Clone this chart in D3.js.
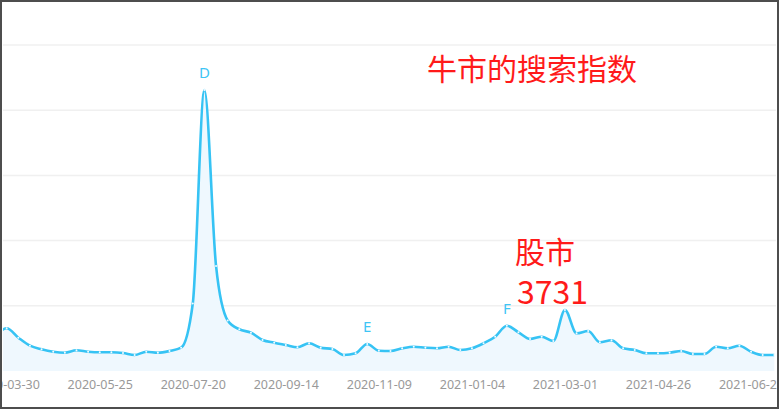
<!DOCTYPE html>
<html>
<head>
<meta charset="utf-8">
<script src="https://cdn.jsdelivr.net/npm/d3@7"></script>
<style>
  html, body { margin: 0; padding: 0; background: #fff; }
  svg { display: block; }
</style>
</head>
<body>
<svg width="779" height="409"></svg>
<script>
// weekly search index, from the week before 2020-03-30 to 2021-07-05
const startWeek = "2020-03-23";
const values = [
  5370, 6550, 5110, 3880, 3330, 2960, 2810, 3180, 2960, 2870,
  2870, 2760, 2450, 2960, 2810, 3070, 3570, 10350, 43100, 16110,
  7750, 6400, 5880, 4760, 4340, 3990, 3640, 4250, 3570, 3380,
  2450, 2720, 4140, 3110, 3070, 3480, 3730, 3570, 3480, 3730,
  3220, 3480, 4250, 5260, 6950, 5940, 4910, 5260, 4600, 9360,
  5780, 6140, 4400, 4710, 3480, 3220, 2720, 2720, 2810, 3070,
  2610, 2610, 3730, 3480, 3880, 2960, 2450, 2450
];
const tickLabels = ["2020-03-30", "2020-05-25", "2020-07-20", "2020-09-14",
  "2020-11-09", "2021-01-04", "2021-03-01", "2021-04-26", "2021-06-21"];
const yTicks = [0, 10000, 20000, 30000, 40000, 50000];
const markers = [
  { label: "D", date: "2020-07-27" },
  { label: "E", date: "2020-11-02" },
  { label: "F", date: "2021-01-25" }
];

const parse = d3.timeParse("%Y-%m-%d");
const fmt = d3.timeFormat("%Y-%m-%d");
const data = values.map((v, i) => ({ date: d3.timeWeek.offset(parse(startWeek), i), value: v }));

const svg = d3.select("svg");
const width = 779, height = 409;

// --- scales ---
const x = d3.scaleTime()
  .domain([parse("2020-03-30"), parse("2021-07-05")])
  .range([6.7, 774.3]);
const y = d3.scaleLinear()
  .domain([0, 50000])
  .range([371, 45]);

// --- grid lines ---
svg.append("g")
  .selectAll("line")
  .data(yTicks.slice(1))
  .join("line")
  .attr("x1", 3).attr("x2", 776)
  .attr("y1", d => y(d)).attr("y2", d => y(d))
  .attr("stroke", "#f0f0f0")
  .attr("stroke-width", 1.5);

// --- clip to plot box ---
svg.append("clipPath").attr("id", "clip")
  .append("rect").attr("x", 3).attr("y", 0).attr("width", 773).attr("height", 372);

const plot = svg.append("g").attr("clip-path", "url(#clip)");

const curve = d3.curveMonotoneX;

plot.append("path")
  .datum(data)
  .attr("fill", "#eff8fe")
  .attr("d", d3.area().curve(curve).x(d => x(d.date)).y0(y(0)).y1(d => y(d.value)));

plot.append("path")
  .datum(data)
  .attr("fill", "none")
  .attr("stroke", "#36c3f4")
  .attr("stroke-width", 2.6)
  .attr("stroke-linejoin", "round")
  .attr("d", d3.line().curve(curve).x(d => x(d.date)).y(d => y(d.value)));

plot.selectAll("circle")
  .data(data)
  .join("circle")
  .attr("cx", d => x(d.date))
  .attr("cy", d => y(d.value))
  .attr("r", 1.0)
  .attr("fill", "#f4fbff")
  .attr("stroke", "none");

// --- x axis labels ---
const xAxis = svg.append("g")
  .attr("transform", `translate(0,${y(0)})`)
  .call(d3.axisBottom(x)
    .tickValues(tickLabels.map(parse))
    .tickFormat(fmt)
    .tickSize(0)
    .tickPadding(9));
xAxis.select(".domain").remove();
xAxis.selectAll("text")
  .style("font-family", "'Noto Sans', 'DejaVu Sans', sans-serif")
  .style("font-size", "12.5px")
  .attr("fill", "#999");

// --- point markers ---
svg.selectAll("text.mark")
  .data(markers)
  .join("text")
  .attr("class", "mark")
  .attr("x", d => x(parse(d.date)))
  .attr("y", d => y(data.find(p => fmt(p.date) === d.date).value) - 12)
  .attr("text-anchor", "middle")
  .style("font-family", "'Noto Sans', sans-serif")
  .style("font-size", "15px")
  .attr("fill", "#3ec5f5")
  .text(d => d.label);

// --- red annotations ---
const cjk = "'Noto Sans CJK SC', 'Noto Sans', sans-serif";
svg.append("text")
  .attr("x", 427).attr("y", 80)
  .style("font-family", cjk).style("font-size", "30px")
  .attr("fill", "#ff1a1a")
  .text("牛市的搜索指数");
svg.append("text")
  .attr("x", 515).attr("y", 263)
  .style("font-family", cjk).style("font-size", "30px")
  .attr("fill", "#ff1a1a")
  .text("股市");
svg.append("text")
  .attr("x", 517).attr("y", 304)
  .style("font-family", cjk).style("font-size", "32px")
  .attr("fill", "#ff1a1a")
  .text("3731");

// --- frame of the screenshot ---
svg.append("rect")
  .attr("x", 1).attr("y", 1)
  .attr("width", width - 2).attr("height", height - 2)
  .attr("fill", "none")
  .attr("stroke", "#4d4d4d")
  .attr("stroke-width", 2);
</script>
</body>
</html>
